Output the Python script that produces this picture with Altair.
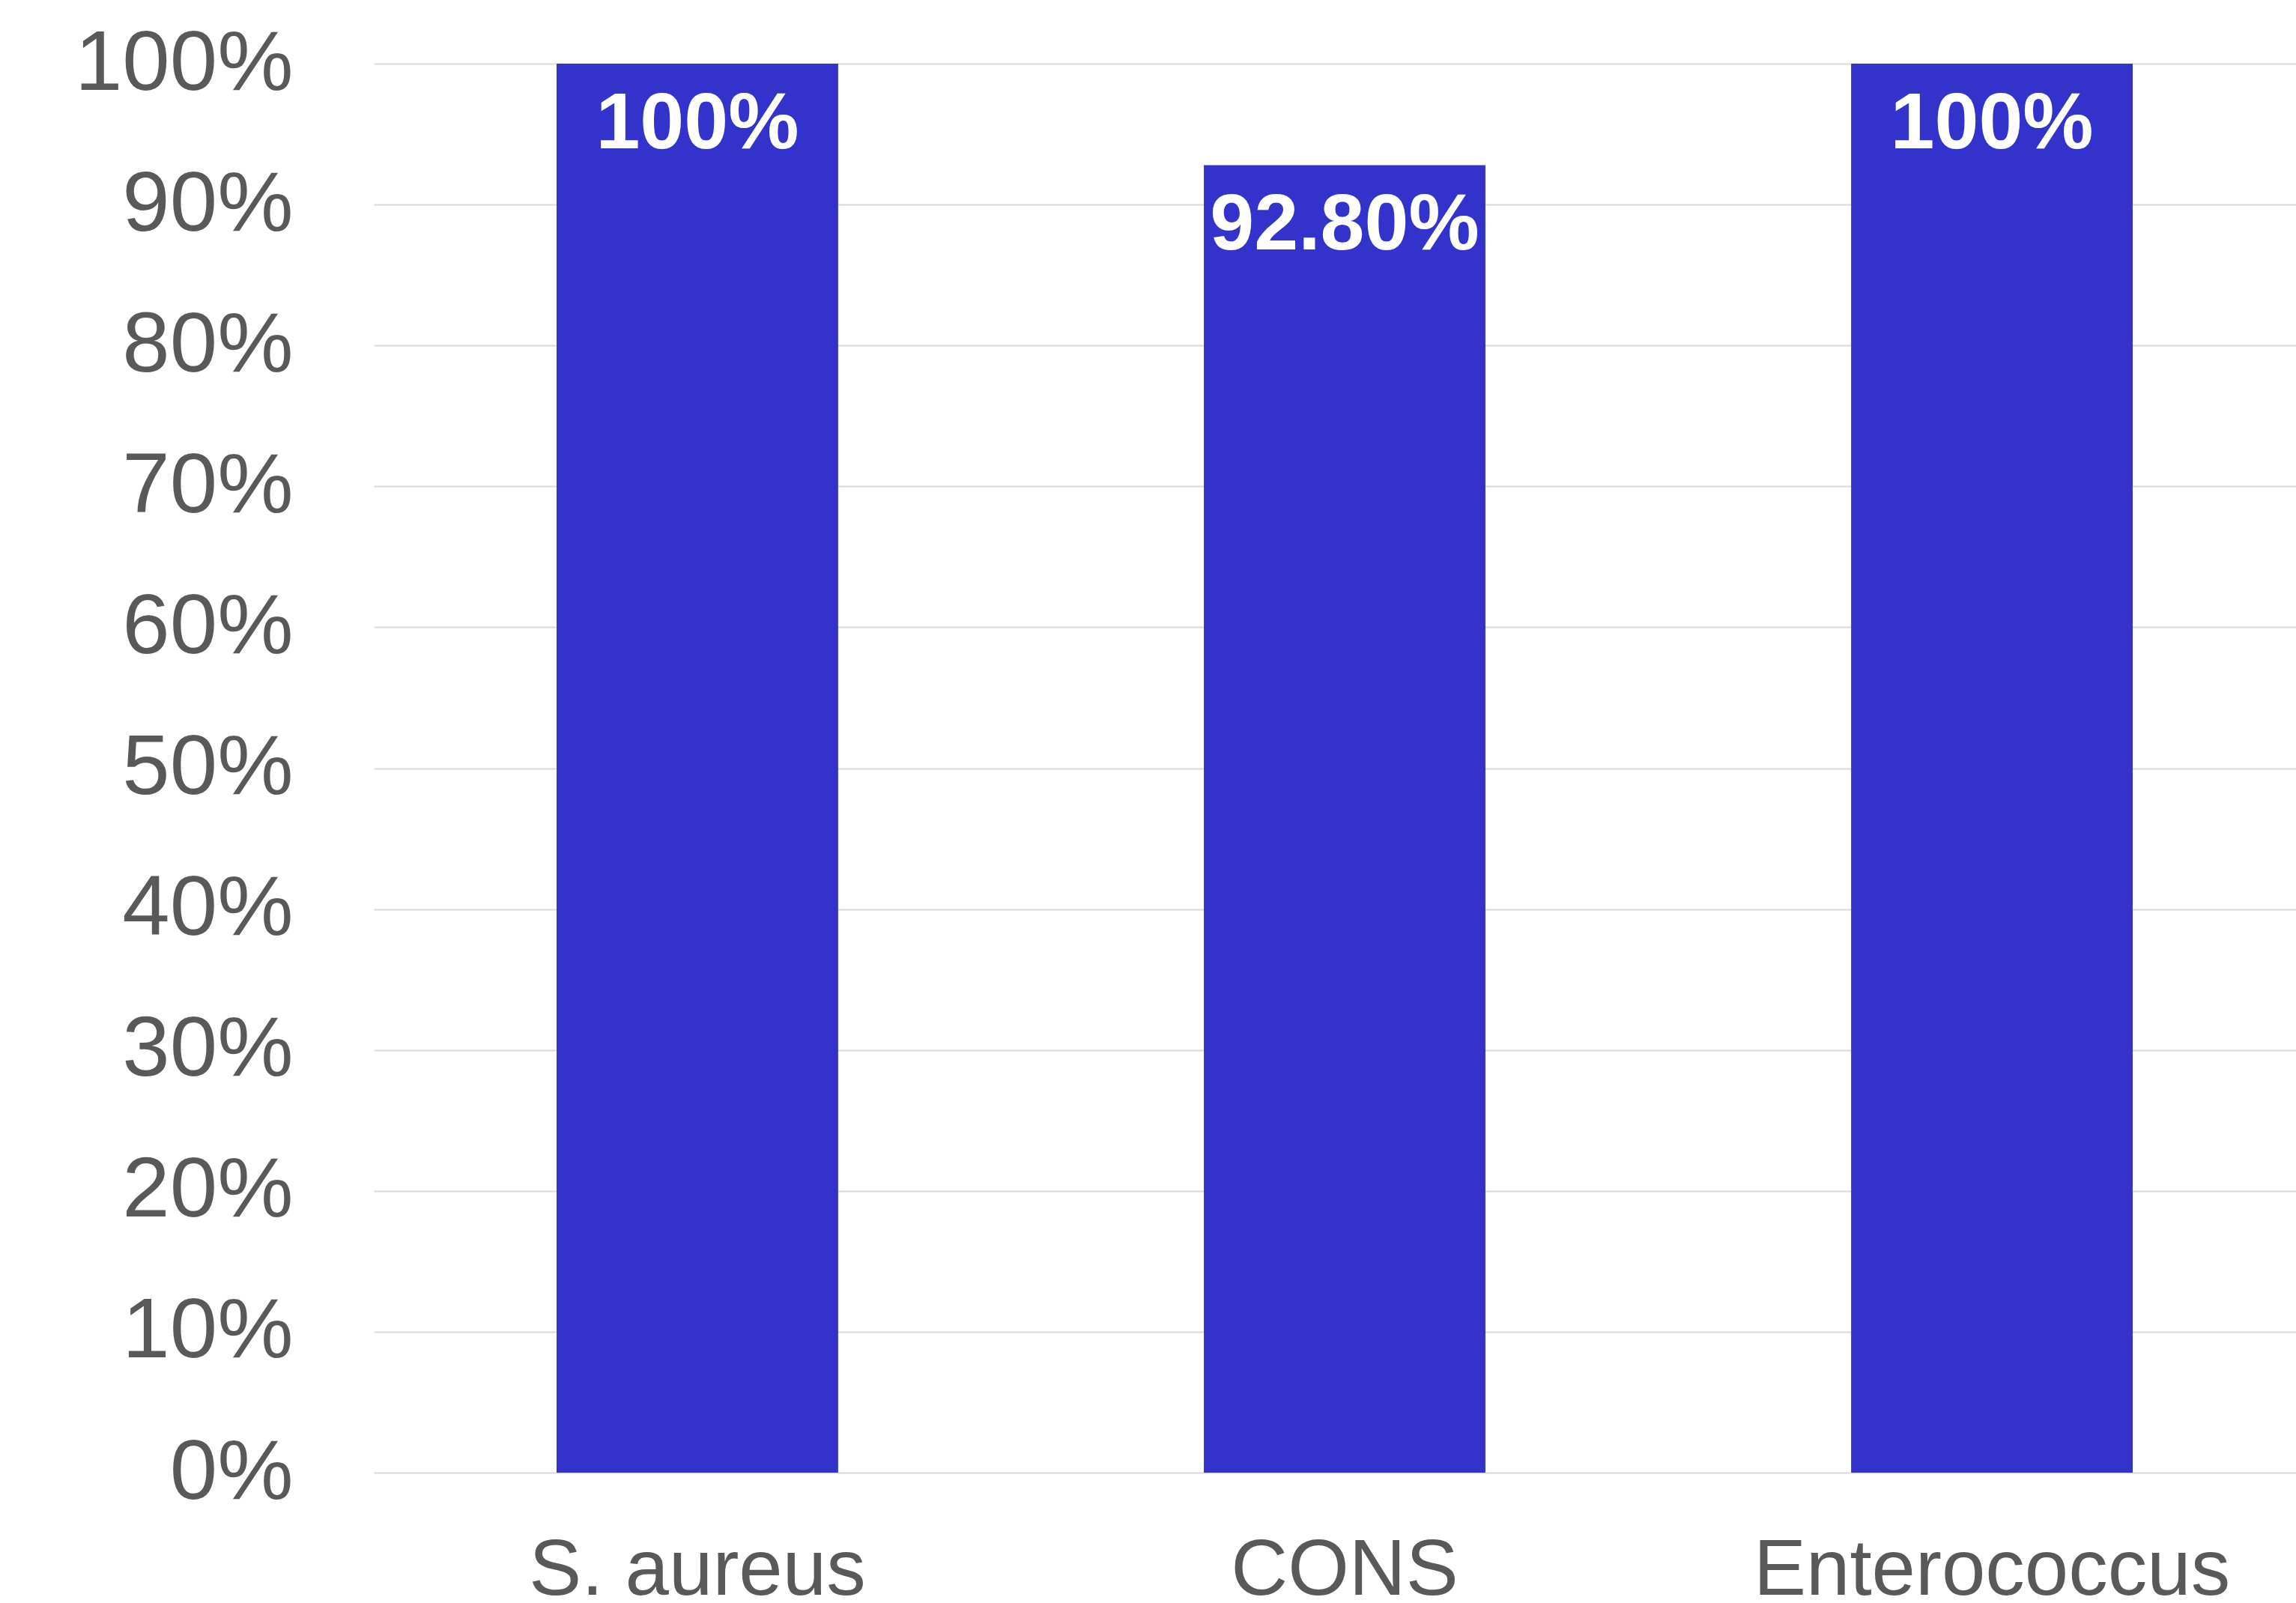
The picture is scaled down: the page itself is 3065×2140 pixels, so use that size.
import altair as alt
import pandas as pd

categories = ["S. aureus", "CONS", "Enterococcus"]
values = [1.0, 0.928, 1.0]
labels = ["100%", "92.80%", "100%"]
y_ticks = [0, 0.1, 0.2, 0.3, 0.4, 0.5, 0.6, 0.7, 0.8, 0.9, 1.0]

df = pd.DataFrame({"cat": categories, "val": values, "lab": labels})

FONT = "Liberation Sans"
GRAY = "#595959"

x_enc = alt.X(
    "cat:N",
    sort=categories,
    title=None,
    scale=alt.Scale(range=[0, 2592], paddingInner=0.565, paddingOuter=0.2824),
    axis=alt.Axis(
        labelFontSize=105,
        labelFont=FONT,
        labelColor=GRAY,
        labelAngle=0,
        labelBaseline="alphabetic",
        labelPadding=162,
        labelLimit=0,
        labelOverlap=False,
        ticks=False,
        domain=False,
        grid=False,
    ),
)

y_enc = alt.Y(
    "val:Q",
    title=None,
    scale=alt.Scale(domain=[0, 1], nice=False, zero=True),
    axis=alt.Axis(
        values=y_ticks,
        format=".0%",
        labelFontSize=114,
        labelFont=FONT,
        labelColor=GRAY,
        labelPadding=108,
        labelBaseline="middle",
        labelLimit=0,
        labelOverlap=False,
        ticks=False,
        domain=False,
        grid=True,
        gridColor="#D9D9D9",
        gridWidth=2,
    ),
)

bars = alt.Chart(df).mark_bar(color="#3333CC").encode(x=x_enc, y=y_enc)

text = alt.Chart(df).mark_text(
    color="white",
    fontWeight="bold",
    fontSize=106,
    font=FONT,
    baseline="alphabetic",
    align="center",
    dy=113,
).encode(x=x_enc, y=y_enc, text="lab:N")

chart = (
    alt.layer(bars, text)
    .properties(
        width=2566,
        height=1881,
        autosize=alt.AutoSizeParams(type="none"),
        padding={"left": 499, "top": 85, "right": 0, "bottom": 174},
        background="white",
    )
    .configure_view(stroke=None)
)

chart.save("out.html", embed_options={"renderer": "svg", "actions": False})
